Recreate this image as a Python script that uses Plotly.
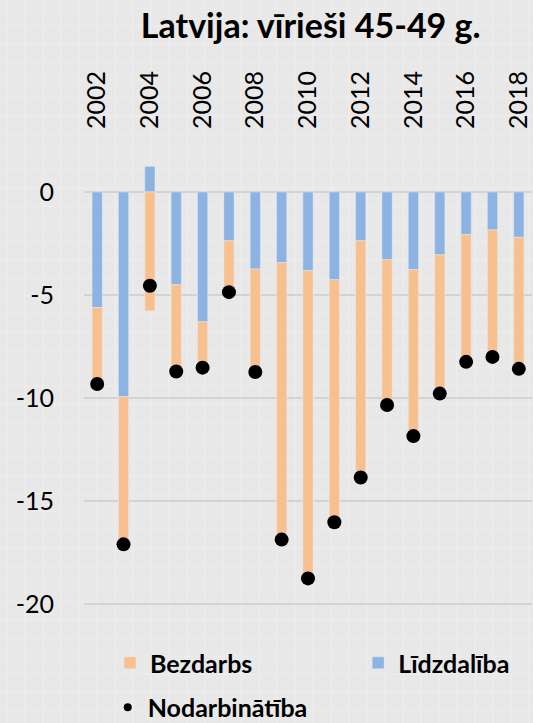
import plotly.graph_objects as go

years = list(range(2002, 2019))
lidzdaliba = [-5.61, -9.93, 1.24, -4.50, -6.30, -2.37, -3.74, -3.43, -3.82, -4.26,
              -2.37, -3.29, -3.77, -3.05, -2.07, -1.84, -2.20]
bezdarbs = [-3.70, -7.16, -5.77, -4.21, -2.22, -2.49, -4.99, -13.43, -14.92, -11.76,
            -11.48, -7.04, -8.07, -6.73, -6.17, -6.16, -6.38]
nodarbinatiba = [-9.31, -17.09, -4.55, -8.71, -8.52, -4.86, -8.73, -16.86, -18.74, -16.02,
                 -13.85, -10.33, -11.84, -9.78, -8.24, -8.00, -8.58]
year_ticks = list(range(2002, 2019, 2))
y_ticks = [0, -5, -10, -15, -20]
y_labels = ["0", "-5", "-10", "-15", "-20"]

FONT = "Lato"
legfont = dict(size=25, weight="bold", family=FONT)
W, H = 533, 723
L, R, T, B = 84, 1, 161, 98
pw, ph = W - L - R, H - T - B

fig = go.Figure()
fig.add_trace(go.Bar(x=years, y=lidzdaliba, name="Līdzdalība", marker_color="#8db3e2",
                     width=0.39, legend="legend2"))
fig.add_trace(go.Bar(x=years, y=bezdarbs, name="Bezdarbs", marker_color="#f9c08f",
                     width=0.39, legend="legend"))
fig.add_trace(go.Scatter(x=years, y=nodarbinatiba, name="Nodarbinātība", mode="markers",
                         marker=dict(color="black", size=14), showlegend=False))
# legend-only entry so the legend dot stays small
fig.add_trace(go.Scatter(x=[None], y=[None], name="Nodarbinātība", mode="markers",
                         marker=dict(color="black", size=8), legend="legend3"))

# faint squared slide background
bg = []
for px in range(7, W, 18):
    xp = (px - L) / pw
    bg.append(dict(type="line", xref="paper", yref="paper", x0=xp, x1=xp,
                   y0=-B / ph - 0.01, y1=1 + T / ph + 0.01, layer="below",
                   line=dict(color="#ececec", width=1.5)))
for py in range(8, H, 18):
    yp = (H - B - py) / ph
    bg.append(dict(type="line", xref="paper", yref="paper", y0=yp, y1=yp,
                   x0=-L / pw - 0.01, x1=1 + R / pw + 0.01, layer="below",
                   line=dict(color="#ececec", width=1.5)))

fig.update_layout(
    width=W, height=H,
    barmode="relative",
    paper_bgcolor="#e8e8e8", plot_bgcolor="rgba(0,0,0,0)",
    margin=dict(l=L, r=R, t=T, b=B, autoexpand=False),
    font=dict(family=FONT, color="black"),
    shapes=bg,
    title=dict(text="<b>Latvija: vīrieši 45-49 g.</b>", x=0.583, xanchor="center",
               y=0.964, yanchor="middle", font=dict(size=34, family=FONT)),
    xaxis=dict(side="top", range=[2001.5, 2018.5], tickvals=year_ticks, tickangle=-90,
               tickfont=dict(size=25), showgrid=False, zeroline=False, ticks="",
               ticklabelstandoff=31, automargin=False),
    yaxis=dict(range=[-21, 1.5], tickvals=y_ticks, ticktext=y_labels, tickfont=dict(size=25),
               gridcolor="#d3d3d3", gridwidth=2, zeroline=False,
               ticklabelstandoff=29, automargin=False),
    showlegend=True,
    legend=dict(x=0.058, xanchor="left", y=-0.082, yanchor="middle",
                font=legfont, bgcolor="rgba(0,0,0,0)"),
    legend2=dict(x=0.612, xanchor="left", y=-0.082, yanchor="middle",
                 font=legfont, bgcolor="rgba(0,0,0,0)"),
    legend3=dict(x=0.053, xanchor="left", y=-0.178, yanchor="middle",
                 font=legfont, bgcolor="rgba(0,0,0,0)"),
)

fig.write_html("out.html", config={"displayModeBar": False},
               post_script="document.body.style.margin='0';document.body.style.background='#e8e8e8';")
